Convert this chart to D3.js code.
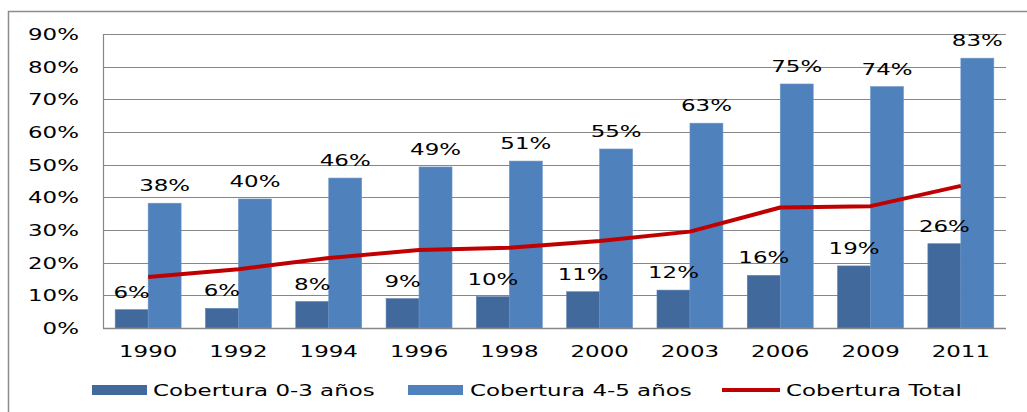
<!DOCTYPE html>
<html>
<head>
<meta charset="utf-8">
<script src="https://cdn.jsdelivr.net/npm/d3@7"></script>
<style>
  body { margin: 0; background: #fff; }
  svg { display: block; }
  text { font-family: "DejaVu Sans", Verdana, sans-serif; fill: #000; }
</style>
</head>
<body>
<svg id="chart" width="1027" height="412"></svg>
<script>
// data
const years = ["1990", "1992", "1994", "1996", "1998", "2000", "2003", "2006", "2009", "2011"];
const cob03 = [0.056, 0.060, 0.081, 0.090, 0.096, 0.111, 0.116, 0.161, 0.190, 0.258];
const cob45 = [0.382, 0.395, 0.459, 0.493, 0.511, 0.548, 0.627, 0.747, 0.739, 0.826];
const cobTotal = [0.156, 0.180, 0.214, 0.239, 0.246, 0.266, 0.295, 0.369, 0.373, 0.435];
const yTicks = [0, 0.1, 0.2, 0.3, 0.4, 0.5, 0.6, 0.7, 0.8, 0.9];
const seriesNames = ["Cobertura 0-3 años", "Cobertura 4-5 años", "Cobertura Total"];

const colors = { dark: "#41699c", light: "#4f81bd", line: "#c00000", grid: "#878787" };
const fontSize = 16.5;
const stretch = 1.39; // the reference text is drawn wide

let svg = d3.select("#chart");

let canvas = { left: 103, right: 1006, top: 34, bottom: 328 };

// outer frame (runs off the picture at right and bottom)
svg.append("rect")
  .attr("x", 8.5).attr("y", 11.5)
  .attr("width", 1100).attr("height", 500)
  .attr("fill", "none")
  .attr("stroke", "#8c8c8c")
  .attr("stroke-width", 1.5);

let x = d3.scaleBand()
  .domain(years)
  .range([canvas.left, canvas.right])
  .paddingInner(0.27)
  .paddingOuter(0.135);

let xInner = d3.scaleBand()
  .domain([0, 1])
  .range([0, x.bandwidth()]);

let y = d3.scaleLinear()
  .domain([0, 0.9])
  .range([canvas.bottom, canvas.top]);

// wide text helper
function wideText(g, tx, ty, str, anchor) {
  return g.append("text")
    .attr("transform", `translate(${tx},${ty}) scale(${stretch},1)`)
    .attr("text-anchor", anchor)
    .attr("font-size", fontSize)
    .text(str);
}

// gridlines
svg.append("g")
  .selectAll("line")
  .data(yTicks)
  .join("line")
  .attr("x1", canvas.left)
  .attr("x2", canvas.right)
  .attr("y1", d => Math.round(y(d)) + 0.5)
  .attr("y2", d => Math.round(y(d)) + 0.5)
  .attr("stroke", colors.grid)
  .attr("stroke-width", 1.2);

// y axis line
svg.append("line")
  .attr("x1", canvas.left + 0.5).attr("x2", canvas.left + 0.5)
  .attr("y1", canvas.top).attr("y2", canvas.bottom)
  .attr("stroke", colors.grid)
  .attr("stroke-width", 1.2);

// y tick labels
let gy = svg.append("g");
yTicks.forEach(t => {
  wideText(gy, 79, y(t) + 6, d3.format(".0%")(t), "end");
});

// bars
let bars = svg.append("g");
[cob03, cob45].forEach((series, si) => {
  bars.selectAll(".s" + si)
    .data(series)
    .join("rect")
    .attr("class", "s" + si)
    .attr("x", (d, i) => x(years[i]) + xInner(si))
    .attr("width", xInner.bandwidth())
    .attr("y", d => y(d))
    .attr("height", d => y(0) - y(d))
    .attr("fill", si === 0 ? colors.dark : colors.light)
    .attr("stroke", si === 0 ? "#5a7fae" : "#6b95c8")
    .attr("stroke-width", 0.6);
});

// redraw bottom axis on top of bars
svg.append("line")
  .attr("x1", canvas.left).attr("x2", canvas.right)
  .attr("y1", Math.round(y(0)) + 0.5).attr("y2", Math.round(y(0)) + 0.5)
  .attr("stroke", colors.grid)
  .attr("stroke-width", 1.5);

// total line
let line = d3.line()
  .x((d, i) => x(years[i]) + x.bandwidth() / 2)
  .y(d => y(d));

svg.append("path")
  .datum(cobTotal)
  .attr("d", line)
  .attr("fill", "none")
  .attr("stroke", colors.line)
  .attr("stroke-width", 4)
  .attr("stroke-linejoin", "round");

// value labels
let labels = svg.append("g");
[cob03, cob45].forEach((series, si) => {
  series.forEach((v, i) => {
    let cx = x(years[i]) + xInner(si) + xInner.bandwidth() / 2;
    wideText(labels, cx, y(v) - 12, d3.format(".0%")(v), "middle");
  });
});

// x labels
let gx = svg.append("g");
years.forEach(yr => {
  wideText(gx, x(yr) + x.bandwidth() / 2, 357, yr, "middle");
});

// legend
let legend = svg.append("g");
let legendY = 390;
legend.append("rect").attr("x", 92).attr("y", legendY - 5).attr("width", 55).attr("height", 10).attr("fill", colors.dark);
wideText(legend, 153, legendY + 6, seriesNames[0], "start");
legend.append("rect").attr("x", 408).attr("y", legendY - 5).attr("width", 55).attr("height", 10).attr("fill", colors.light);
wideText(legend, 470, legendY + 6, seriesNames[1], "start");
legend.append("line").attr("x1", 722).attr("x2", 780).attr("y1", legendY).attr("y2", legendY)
  .attr("stroke", colors.line).attr("stroke-width", 4);
wideText(legend, 786, legendY + 6, seriesNames[2], "start");
</script>
</body>
</html>
